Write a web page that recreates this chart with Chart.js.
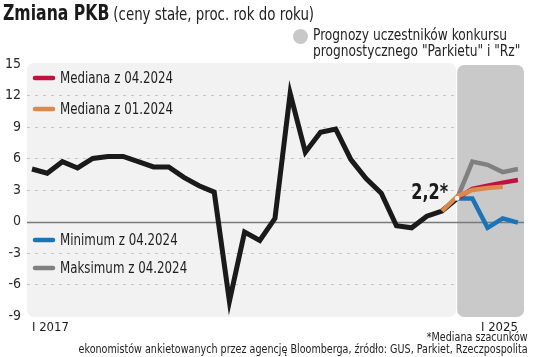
<!DOCTYPE html>
<html>
<head>
<meta charset="utf-8">
<script src="https://cdn.jsdelivr.net/npm/chart.js@4/dist/chart.umd.min.js"></script>
<style>
  html, body { margin:0; padding:0; background:#fff; }
  body { width:536px; height:357px; position:relative; overflow:hidden;
         font-family:"DejaVu Sans Condensed","DejaVu Sans",sans-serif; color:#1a1a1a; }
  #wrap { position:absolute; left:0; top:0; width:536px; height:357px; }
  .abs { position:absolute; white-space:nowrap; }
  .nl { display:inline-block; transform:scaleX(0.85); transform-origin:left top; }
  .nr { display:inline-block; transform:scaleX(0.82); transform-origin:right top; }
</style>
</head>
<body>
<div id="wrap"><canvas id="c" width="536" height="357"></canvas></div>
<div class="abs" style="left:3px; top:1px; line-height:24px;">
  <span class="nl"><span style="font-weight:bold; font-size:20.5px;">Zmiana PKB</span>
  <span style="font-size:17.5px; color:#222;">(ceny stałe, proc. rok do roku)</span></span>
</div>
<div class="abs" style="left:293px; top:29px; width:15px; height:15px; border-radius:50%; background:#c8c8c8;"></div>
<div class="abs" style="left:313px; top:27px; font-size:16px; line-height:16px; color:#222;"><span class="nl">Prognozy uczestników konkursu<br>prognostycznego "Parkietu" i "Rz"</span></div>
<div class="abs" style="right:8px; top:331px; font-size:13px; line-height:12px; color:#222; text-align:right;"><span class="nr">*Mediana szacunków<br>ekonomistów ankietowanych przez agencję Bloomberga, źródło: GUS, Parkiet, Rzeczpospolita</span></div>
<script>
// ---- data ----
const quarters = ["I 2017","II 2017","III 2017","IV 2017","I 2018","II 2018","III 2018","IV 2018",
  "I 2019","II 2019","III 2019","IV 2019","I 2020","II 2020","III 2020","IV 2020",
  "I 2021","II 2021","III 2021","IV 2021","I 2022","II 2022","III 2022","IV 2022",
  "I 2023","II 2023","III 2023","IV 2023","I 2024","II 2024","III 2024","IV 2024","I 2025"];
const actual = [5.0,4.6,5.7,5.1,6.0,6.2,6.2,5.7,5.2,5.2,4.2,3.4,2.8,-7.6,-1.0,-1.8,0.3,12.2,6.6,8.5,8.8,5.9,4.1,2.7,-0.4,-0.6,0.5,1.0,2.2];
const medianApr = [2.2,3.1,3.4,3.7,3.95];   // from I 2024
const medianJan = [1.0,2.4,3.0,3.2,3.3];    // from IV 2023
const minApr = [2.2,2.2,-0.6,0.3,-0.1];     // from I 2024
const maxApr = [2.2,5.7,5.4,4.7,5.0];       // from I 2024
const yTicks = [15,12,9,6,3,0,-3,-6,-9];
const xTickLabels = ["I 2017","I 2025"];
const seriesNames = ["Mediana z 04.2024","Mediana z 01.2024","Minimum z 04.2024","Maksimum z 04.2024"];
const estimateLabel = "2,2*";

const startJan = quarters.indexOf("IV 2023");
const startApr = quarters.indexOf("I 2024");
const pts = (vals, start) => vals.map((v,i) => ({x:start+i, y:v}));

const FONT = '"DejaVu Sans Condensed","DejaVu Sans",sans-serif';
const C = { red:'#c4103f', orange:'#d98a4c', blue:'#1a74b9', gray:'#808080', black:'#1a1a1a' };

function rr(ctx, x, y, w, h, r) {
  ctx.beginPath();
  ctx.moveTo(x+r, y); ctx.lineTo(x+w-r, y); ctx.arcTo(x+w, y, x+w, y+r, r);
  ctx.lineTo(x+w, y+h-r); ctx.arcTo(x+w, y+h, x+w-r, y+h, r);
  ctx.lineTo(x+r, y+h); ctx.arcTo(x, y+h, x, y+h-r, r);
  ctx.lineTo(x, y+r); ctx.arcTo(x, y, x+r, y, r); ctx.closePath();
}
function narrowText(ctx, text, x, y, align, sx) {
  ctx.save(); ctx.translate(x, y); ctx.scale(sx, 1); ctx.textAlign = align;
  ctx.fillText(text, 0, 0); ctx.restore();
}

const deco = {
  id:'deco',
  beforeDraw(chart) {
    const {ctx, chartArea:a, scales:{x}} = chart;
    const xf = x.getPixelForValue(startApr);
    ctx.save();
    ctx.fillStyle = '#f2f2f2';
    rr(ctx, a.left, a.top-1, xf-1-a.left, a.bottom-a.top+2, 7);
    ctx.fill();
    ctx.restore();
  },
  beforeDatasetsDraw(chart) {
    const {ctx, chartArea:a, scales:{x,y}} = chart;
    const xf = x.getPixelForValue(startApr);
    ctx.save();
    ctx.fillStyle = '#c9c9c9';
    rr(ctx, xf, a.top+1, a.right-xf, a.bottom-a.top, 7);
    ctx.fill();
    const y0 = Math.round(y.getPixelForValue(0)) + 0.5;
    ctx.strokeStyle = '#7a7a7a'; ctx.lineWidth = 1.5;
    ctx.beginPath(); ctx.moveTo(a.left, y0); ctx.lineTo(a.right, y0); ctx.stroke();
    const legendY = [78, 109, 240, 268];
    const cols = [C.red, C.orange, C.blue, C.gray];
    ctx.lineCap = 'round'; ctx.lineWidth = 4.5;
    ctx.font = '15.5px ' + FONT; ctx.textBaseline = 'middle';
    seriesNames.forEach((n,i) => {
      ctx.strokeStyle = cols[i];
      ctx.beginPath(); ctx.moveTo(35, legendY[i]); ctx.lineTo(53, legendY[i]); ctx.stroke();
      ctx.fillStyle = '#1e1e1e';
      narrowText(ctx, n, 60, legendY[i]+1, 'left', 0.85);
    });
    const px = x.getPixelForValue(startApr), py = y.getPixelForValue(actual[actual.length-1]);
    ctx.font = 'bold 21px ' + FONT; ctx.fillStyle = '#1a1a1a';
    narrowText(ctx, estimateLabel, px-9, py-5, 'right', 0.85);
    ctx.restore();
  },
  afterDatasetsDraw(chart) {
    const {ctx, scales:{x,y}} = chart;
    const px = x.getPixelForValue(startApr), py = y.getPixelForValue(actual[actual.length-1]);
    ctx.save(); ctx.fillStyle = '#fff';
    ctx.beginPath(); ctx.arc(px, py, 2.3, 0, Math.PI*2); ctx.fill(); ctx.restore();
  }
};

const lineDs = (label, data, color, w) => ({
  label, data, borderColor:color, borderWidth:w, pointRadius:0, tension:0,
  borderJoinStyle:'miter', borderCapStyle:'butt', fill:false
});

new Chart(document.getElementById('c'), {
  type:'line',
  data:{ datasets:[
    lineDs(seriesNames[1], pts(medianJan, startJan), C.orange, 4.5),
    lineDs(seriesNames[0], pts(medianApr, startApr), C.red, 4.5),
    lineDs('PKB', pts(actual, 0), C.black, 5),
    lineDs(seriesNames[2], pts(minApr, startApr), C.blue, 4.5),
    lineDs(seriesNames[3], pts(maxApr, startApr), C.gray, 4.5)
  ]},
  options:{
    responsive:false, animation:false, devicePixelRatio:1,
    layout:{ padding:{ left:0, right:12, top:64, bottom:0 } },
    plugins:{ legend:{display:false}, tooltip:{enabled:false} },
    scales:{
      x:{ type:'linear', min:-0.33, max:32.4,
        grid:{display:false, drawTicks:false}, border:{display:false},
        afterBuildTicks(s){ s.ticks = xTickLabels.map(l => ({value: quarters.indexOf(l)})); },
        afterFit(s){ s.height = 41; },
        ticks:{ autoSkip:false, maxRotation:0, align:'inner', padding:4, color:'#1a1a1a',
          font:{family:FONT, size:13}, callback:(v) => quarters[v] }
      },
      y:{ type:'linear', min:-9, max:15,
        afterBuildTicks(s){ s.ticks = yTicks.map(v => ({value:v})); },
        afterFit(s){ s.width = 27; },
        grid:{ drawTicks:false, lineWidth:1,
          color:(c) => (c.tick && (c.tick.value === 15 || c.tick.value === -9 || c.tick.value === 0)) ? 'rgba(0,0,0,0)' : '#c6c6c6' },
        border:{display:false, dash:[3,5]},
        ticks:{ padding:6, color:'#2a2a2a', font:{family:FONT, size:14}, callback:(v) => String(v) }
      }
    }
  },
  plugins:[deco]
});
</script>
</body>
</html>
